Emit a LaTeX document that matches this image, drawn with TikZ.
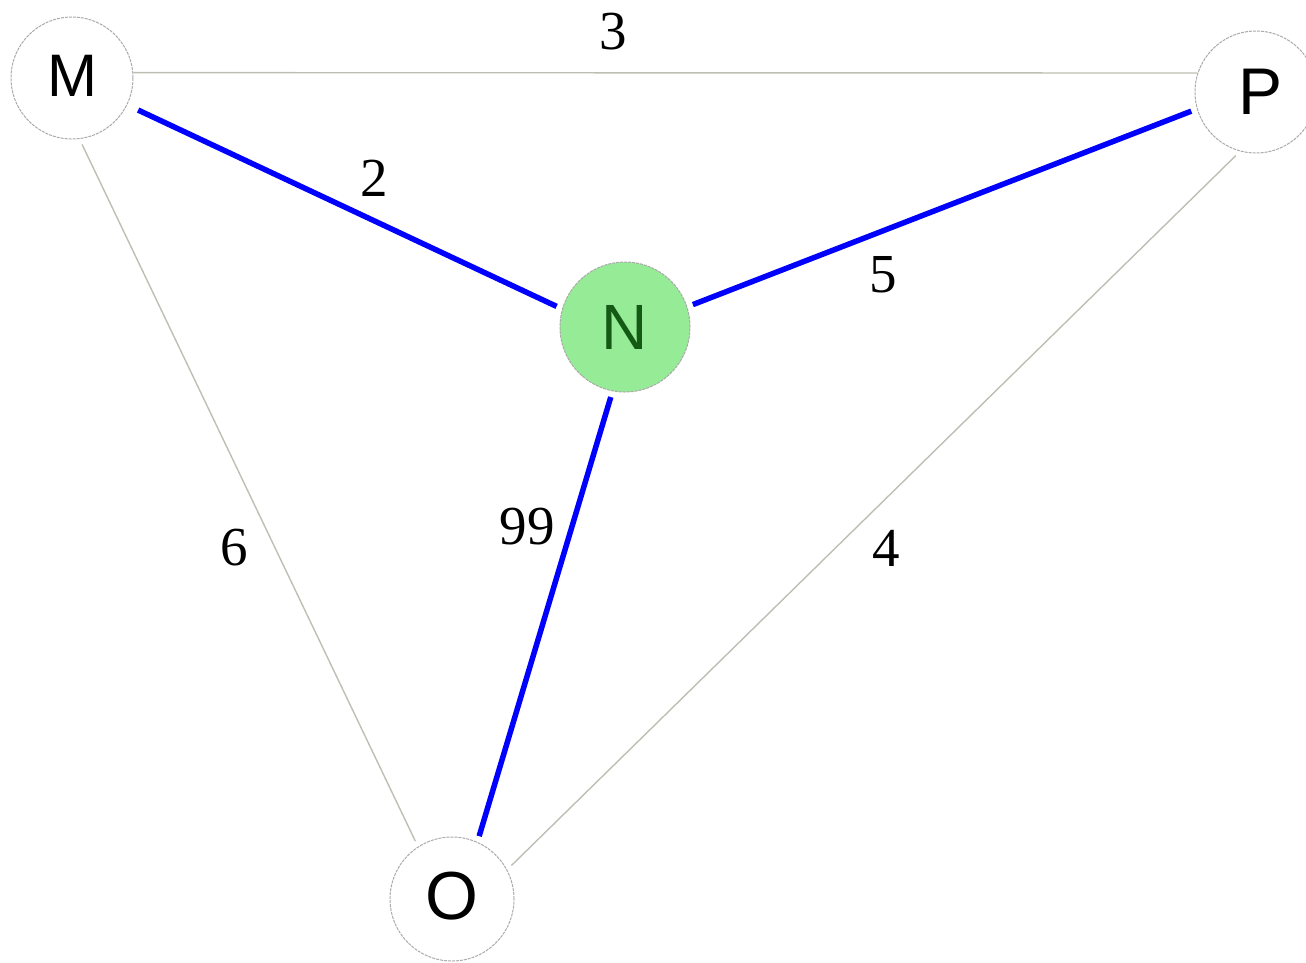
\documentclass[tikz,border=0pt]{standalone}
\usepackage{fontspec}
\setmainfont{Liberation Serif}
\newfontfamily\nodefont{Liberation Sans}
\definecolor{edgegray}{RGB}{190,190,180}
\definecolor{circgray}{RGB}{170,170,170}
\definecolor{ngreen}{RGB}{150,235,150}
\definecolor{ntext}{RGB}{20,90,20}
\begin{document}
\begin{tikzpicture}[x=1pt,y=-1pt,
  vertex/.style={circle,draw=circgray,line width=1pt,dash pattern=on 3pt off 1pt,minimum size=122pt,inner sep=0pt,font=\nodefont\fontsize{60}{60}\selectfont},
  plain/.style={draw=edgegray,line width=1.4pt,shorten <=6pt,shorten >=6pt},
  chosen/.style={draw=blue,line width=5.5pt,shorten <=6pt,shorten >=6pt},
  wlabel/.style={font=\fontsize{55}{55}\selectfont}]
\useasboundingbox (0,0) rectangle (1306,962);
\node[vertex] (M) at (72,78) {\raisebox{4pt}{M}};
\node[vertex,font=\nodefont\fontsize{66}{66}\selectfont] (P) at (1256,92) {\hspace{8pt}P};
\node[vertex,fill=ngreen,minimum size=130pt,text=ntext,font=\nodefont\fontsize{64}{64}\selectfont] (N) at (625,327) {N};
\node[vertex,minimum size=124pt,font=\nodefont\fontsize{68}{68}\selectfont] (O) at (452,899) {\raisebox{6pt}{O}};
\draw[plain,shorten <=0pt,shorten >=0pt] (M.5) -- (P.162);
\draw[plain] (M.-83) -- (O.123);
\draw[plain] (P.-105) -- (O.28);
\draw[chosen,shorten <=12pt] (M.-26) -- (N.164);
\draw[chosen] (N.18) -- (P.-164);
\draw[chosen] (N.-101) -- (O.66);
\node[wlabel] (l3) at (613,32) {3};
\node[wlabel] (l2) at (374,178) {2};
\node[wlabel] (l5) at (883,275) {5};
\node[wlabel] (l99) at (527,527) {99};
\node[wlabel] (l6) at (234,548) {6};
\node[wlabel] (l4) at (886,548) {4};
\end{tikzpicture}
\end{document}
